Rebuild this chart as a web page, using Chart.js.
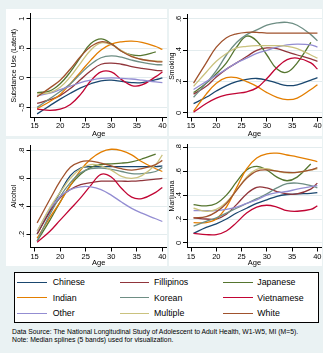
<!DOCTYPE html>
<html>
<head>
<meta charset="utf-8">
<script src="https://cdn.jsdelivr.net/npm/chart.js@4.4.1/dist/chart.umd.min.js"></script>
<style>
  body { margin: 0; width: 323px; height: 353px; background: #eaf2f3; position: relative; overflow: hidden;
         font-family: "Liberation Sans", Arial, sans-serif; }
  .panel { position: absolute; background: #fff; }
  canvas { position: absolute; }
  #legend { position: absolute; left: 14px; top: 272px; width: 305px; height: 51px; border: 1px solid #000; background: #fff; box-sizing: border-box; }
  .swatch { position: absolute; height: 1.6px; width: 29.4px; }
  .lab { position: absolute; font-size: 8.8px; line-height: 10px; color: #000; white-space: nowrap; }
  .note { position: absolute; left: 12px; font-size: 6.8px; line-height: 8px; color: #000; white-space: nowrap; }
</style>
</head>
<body>
<div class="panel" style="left:6px;top:9px;width:161px;height:127px"></div>
<div class="panel" style="left:169px;top:9px;width:153px;height:127px"></div>
<div class="panel" style="left:6px;top:139px;width:161px;height:127px"></div>
<div class="panel" style="left:169px;top:139px;width:153px;height:127px"></div>

<canvas id="c1" width="161" height="130" style="left:6px;top:9px"></canvas>
<canvas id="c2" width="156" height="130" style="left:166px;top:9px"></canvas>
<canvas id="c3" width="161" height="130" style="left:6px;top:139px"></canvas>
<canvas id="c4" width="156" height="130" style="left:166px;top:139px"></canvas>

<div id="legend"></div>
<div class="note" style="top:328px">Data Source: The National Longitudinal Study of Adolescent to Adult Health, W1-W5, MI (M=5).</div>
<div class="note" style="top:335.5px">Note: Median splines (5 bands) used for visualization.</div>

<script>
const AGES = [15.5, 18, 20, 22, 24, 26, 28, 30, 32, 34, 36, 38.7, 40];
const GROUPS = ["Chinese", "Fillipinos", "Japanese", "Indian", "Korean", "Vietnamese", "Other", "Multiple", "White"];
const COLORS = ["#1a476f", "#90353b", "#55752f", "#e37e00", "#6e8e84", "#c10534", "#938dd2", "#cac27e", "#a0522d"];
const X_TICKS = [15, 20, 25, 30, 35, 40];

// Substance use (latent)
const subChinese    = [-0.61, -0.47, -0.36, -0.26, -0.17, -0.10, -0.05, -0.04, -0.06, -0.08, -0.08, -0.03, 0.00];
const subFillipinos = [-0.43, -0.37, -0.30, -0.18, -0.03, 0.12, 0.23, 0.25, 0.23, 0.19, 0.16, 0.125, 0.12];
const subJapanese   = [-0.25, -0.22, -0.10, 0.10, 0.35, 0.58, 0.66, 0.58, 0.45, 0.39, 0.38, 0.44, null];
const subIndian     = [-0.52, -0.40, -0.28, -0.10, 0.10, 0.30, 0.47, 0.57, 0.61, 0.62, 0.60, 0.53, 0.48];
const subKorean     = [-0.50, -0.35, -0.23, -0.10, 0.07, 0.23, 0.34, 0.37, 0.35, 0.30, 0.26, 0.225, 0.22];
const subVietnamese = [-0.53, -0.55, -0.53, -0.45, -0.28, -0.05, 0.10, 0.10, -0.03, -0.13, -0.12, 0.02, 0.10];
const subOther      = [-0.30, -0.26, -0.20, -0.14, -0.08, -0.04, -0.01, 0.00, -0.01, -0.02, -0.04, -0.07, -0.08];
const subMultiple   = [-0.27, -0.25, -0.16, 0.02, 0.25, 0.47, 0.59, 0.56, 0.46, 0.37, 0.31, 0.285, 0.28];
const subWhite      = [-0.32, -0.17, -0.04, 0.15, 0.36, 0.53, 0.61, 0.57, 0.45, 0.36, 0.31, 0.275, 0.27];

// Smoking
const smkChinese    = [0.06, 0.10, 0.14, 0.175, 0.20, 0.215, 0.22, 0.21, 0.19, 0.175, 0.18, 0.21, 0.225];
const smkFillipinos = [0.12, 0.17, 0.23, 0.28, 0.32, 0.36, 0.40, 0.415, 0.41, 0.39, 0.37, 0.345, 0.33];
const smkJapanese   = [0.13, 0.19, 0.25, 0.32, 0.42, 0.49, 0.46, 0.37, 0.28, 0.26, 0.32, 0.45, null];
const smkIndian     = [0.01, 0.12, 0.19, 0.225, 0.225, 0.20, 0.17, 0.13, 0.10, 0.085, 0.095, 0.15, 0.18];
const smkKorean     = [0.10, 0.19, 0.27, 0.37, 0.45, 0.50, 0.53, 0.56, 0.575, 0.578, 0.56, 0.50, 0.46];
const smkVietnamese = [0.005, 0.06, 0.095, 0.115, 0.125, 0.135, 0.16, 0.22, 0.29, 0.34, 0.35, 0.32, 0.28];
const smkOther      = [0.15, 0.20, 0.24, 0.28, 0.32, 0.35, 0.38, 0.40, 0.42, 0.435, 0.44, 0.435, 0.42];
const smkMultiple   = [0.17, 0.26, 0.33, 0.38, 0.415, 0.425, 0.43, 0.43, 0.43, 0.425, 0.41, 0.37, 0.35];
const smkWhite      = [0.19, 0.32, 0.42, 0.48, 0.505, 0.515, 0.515, 0.51, 0.51, 0.51, 0.51, 0.51, 0.51];

// Alcohol
const alcChinese    = [0.20, 0.37, 0.50, 0.62, 0.675, 0.685, 0.685, 0.685, 0.685, 0.685, 0.685, 0.685, 0.69];
const alcFillipinos = [0.20, 0.36, 0.46, 0.52, 0.555, 0.57, 0.58, 0.58, 0.58, 0.58, 0.585, 0.595, 0.60];
const alcJapanese   = [0.15, 0.30, 0.43, 0.55, 0.63, 0.68, 0.70, 0.705, 0.71, 0.72, 0.74, 0.775, null];
const alcIndian     = [0.17, 0.32, 0.43, 0.55, 0.66, 0.74, 0.79, 0.81, 0.80, 0.77, 0.72, 0.67, 0.65];
const alcKorean     = [0.15, 0.34, 0.47, 0.57, 0.64, 0.67, 0.675, 0.665, 0.65, 0.635, 0.635, 0.65, 0.68];
const alcVietnamese = [0.14, 0.22, 0.30, 0.38, 0.46, 0.55, 0.63, 0.61, 0.53, 0.465, 0.455, 0.50, 0.535];
const alcOther      = [0.22, 0.38, 0.47, 0.52, 0.54, 0.54, 0.52, 0.48, 0.43, 0.385, 0.35, 0.31, 0.29];
const alcMultiple   = [0.22, 0.39, 0.50, 0.60, 0.67, 0.70, 0.69, 0.66, 0.615, 0.60, 0.62, 0.70, 0.77];
const alcWhite      = [0.28, 0.45, 0.58, 0.68, 0.72, 0.725, 0.71, 0.69, 0.67, 0.66, 0.67, 0.70, 0.73];

// Marijuana
const marChinese    = [0.08, 0.13, 0.16, 0.20, 0.25, 0.29, 0.33, 0.36, 0.39, 0.405, 0.41, 0.415, 0.42];
const marFillipinos = [0.21, 0.20, 0.20, 0.24, 0.32, 0.41, 0.465, 0.46, 0.43, 0.41, 0.41, 0.45, 0.50];
const marJapanese   = [0.32, 0.31, 0.33, 0.40, 0.51, 0.61, 0.64, 0.61, 0.55, 0.52, 0.55, 0.66, null];
const marIndian     = [0.17, 0.17, 0.20, 0.30, 0.46, 0.62, 0.71, 0.745, 0.75, 0.735, 0.72, 0.695, 0.68];
const marKorean     = [0.14, 0.18, 0.21, 0.25, 0.29, 0.33, 0.37, 0.41, 0.46, 0.495, 0.50, 0.48, 0.46];
const marVietnamese = [0.08, 0.07, 0.07, 0.10, 0.17, 0.25, 0.30, 0.315, 0.30, 0.27, 0.265, 0.28, 0.31];
const marOther      = [0.27, 0.27, 0.27, 0.28, 0.30, 0.33, 0.36, 0.40, 0.42, 0.43, 0.45, 0.47, 0.48];
const marMultiple   = [0.29, 0.265, 0.28, 0.34, 0.44, 0.55, 0.615, 0.62, 0.60, 0.585, 0.59, 0.61, 0.62];
const marWhite      = [0.21, 0.22, 0.26, 0.33, 0.44, 0.54, 0.60, 0.61, 0.60, 0.59, 0.59, 0.61, 0.63];

// y axis ticks per panel
const SUB_TICKS = [-0.5, 0, 0.5, 1];
const SUB_LABELS = ["-.5", "0", ".5", "1"];
const SMK_TICKS = [0, 0.2, 0.4, 0.6];
const SMK_LABELS = ["0", ".2", ".4", ".6"];
const ALC_TICKS = [0.2, 0.4, 0.6, 0.8];
const ALC_LABELS = [".2", ".4", ".6", ".8"];
const MAR_TICKS = [0, 0.2, 0.4, 0.6, 0.8];
const MAR_LABELS = ["0", ".2", ".4", ".6", ".8"];

const FONT = "'Liberation Sans', Arial, sans-serif";
Chart.defaults.font.family = FONT;
Chart.defaults.color = "#000";

function drawPanel(id, series, yTicks, yLabels, yMin, yMax, yTitle, lay) {
  const ctx = document.getElementById(id).getContext("2d");
  return new Chart(ctx, {
    type: "line",
    data: {
      datasets: series.map((vals, i) => ({
        label: GROUPS[i],
        data: AGES.map((a, j) => ({ x: a, y: vals[j] })),
        borderColor: COLORS[i],
        borderWidth: 1.3,
        pointRadius: 0,
        tension: 0.4,
        fill: false,
        order: GROUPS.length - i
      }))
    },
    options: {
      responsive: false,
      animation: false,
      devicePixelRatio: 1,
      layout: { padding: { left: 0, right: 0, top: 1, bottom: 0 } },
      plugins: { legend: { display: false }, tooltip: { enabled: false } },
      scales: {
        x: {
          type: "linear", min: 14.2, max: 40.9,
          afterBuildTicks: s => { s.ticks = X_TICKS.map(v => ({ value: v })); },
          afterFit: s => { s.height = lay.xh; },
          grid: { drawOnChartArea: false, drawTicks: true, tickLength: 4, tickColor: "#000" },
          border: { display: true, color: "#000", width: 1 },
          ticks: { font: { size: 7.5 }, padding: lay.xPad, maxRotation: 0, autoSkip: false },
          title: { display: true, text: "Age", font: { size: 7.5 }, padding: { top: 0, bottom: lay.agePad } }
        },
        y: {
          type: "linear", min: yMin, max: yMax,
          afterBuildTicks: s => { s.ticks = yTicks.map(v => ({ value: v })); },
          afterFit: s => { s.width = lay.yw; },
          grid: { color: "#e3ecee", lineWidth: 1, drawTicks: true, tickLength: 4, tickColor: "#000" },
          border: { display: true, color: "#000", width: 1 },
          ticks: {
            font: { size: 7.5 }, padding: lay.yPad, minRotation: 90, maxRotation: 90,
            crossAlign: "center", autoSkip: false,
            callback: (v, i) => yLabels[i]
          },
          title: { display: true, text: yTitle, font: { size: 7 }, padding: { top: lay.titlePad, bottom: 0 } }
        }
      }
    }
  });
}

drawPanel("c1",
  [subChinese, subFillipinos, subJapanese, subIndian, subKorean, subVietnamese, subOther, subMultiple, subWhite],
  SUB_TICKS, SUB_LABELS, -0.671, 1.0815, "Substance Use (Latent)",
  { yw: 24.5, xh: 21.5, xPad: 0, agePad: 0.5, yPad: 0.4, titlePad: 3.8 });

drawPanel("c2",
  [smkChinese, smkFillipinos, smkJapanese, smkIndian, smkKorean, smkVietnamese, smkOther, smkMultiple, smkWhite],
  SMK_TICKS, SMK_LABELS, -0.029, 0.626, "Smoking",
  { yw: 21, xh: 21.5, xPad: 0, agePad: 0.5, yPad: 1.4, titlePad: 1.5 });

drawPanel("c3",
  [alcChinese, alcFillipinos, alcJapanese, alcIndian, alcKorean, alcVietnamese, alcOther, alcMultiple, alcWhite],
  ALC_TICKS, ALC_LABELS, 0.103, 0.84, "Alcohol",
  { yw: 24.5, xh: 21.5, xPad: 0.5, agePad: 1.2, yPad: 1.6, titlePad: 3.8 });

drawPanel("c4",
  [marChinese, marFillipinos, marJapanese, marIndian, marKorean, marVietnamese, marOther, marMultiple, marWhite],
  MAR_TICKS, MAR_LABELS, -0.038, 0.822, "Marijuana",
  { yw: 21, xh: 21.5, xPad: 0.5, agePad: 1.2, yPad: 1.1, titlePad: 1.5 });

// Legend box: 3 columns x 3 rows
const legend = document.getElementById("legend");
const lineLeft = [17.3, 120, 223.3];
const textLeft = [52.7, 154, 257.3];
const rowY = [282.3, 297.7, 313.3];
GROUPS.forEach((g, i) => {
  const col = i % 3, row = Math.floor(i / 3);
  const sw = document.createElement("div");
  sw.className = "swatch";
  sw.style.background = COLORS[i];
  sw.style.left = (lineLeft[col] - 15) + "px";
  sw.style.top = (rowY[row] - 272 - 1.8) + "px";
  legend.appendChild(sw);
  const t = document.createElement("div");
  t.className = "lab";
  t.textContent = g;
  t.style.left = (textLeft[col] - 15) + "px";
  t.style.top = (rowY[row] - 272 - 6) + "px";
  legend.appendChild(t);
});
</script>
</body>
</html>
